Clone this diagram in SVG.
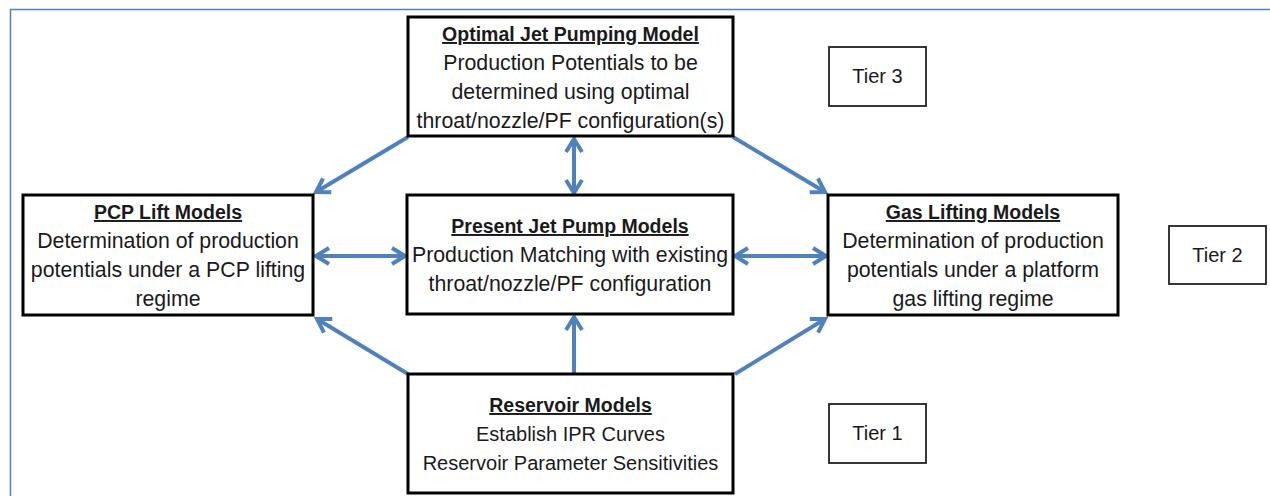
<svg xmlns="http://www.w3.org/2000/svg" width="1270" height="496" viewBox="0 0 1270 496">
<style>
.box{fill:#fff;stroke:#000;stroke-width:3}
.tier{fill:#fff;stroke:#222;stroke-width:1.8}
text{font-family:"Liberation Sans",Arial,sans-serif;font-size:21.3px;fill:#1a1a1a;text-anchor:middle}
.t{font-weight:bold;text-decoration:underline;font-size:19.5px}
.tt{font-size:20px}
.conn line{stroke:#4F81BD;stroke-width:4;fill:none}
</style>
<defs>
<marker id="ah" markerUnits="userSpaceOnUse" viewBox="0 0 20 20" markerWidth="20" markerHeight="20" refX="16" refY="10" orient="auto-start-reverse">
<path d="M3,2 L16,10 L3,18" fill="none" stroke="#4F81BD" stroke-width="4" stroke-linejoin="miter"/>
</marker>
</defs>
<rect width="1270" height="496" fill="#fff"/>
<g id="frame" stroke="#4F81BD" stroke-width="1.5" fill="none">
<line x1="10" y1="9.5" x2="1270" y2="9.5"/>
<line x1="10.5" y1="9" x2="10.5" y2="496"/>
</g>
<g class="conn" id="connectors">
<line x1="408" y1="137" x2="316" y2="192" marker-end="url(#ah)"/>
<line x1="733" y1="137" x2="825" y2="192" marker-end="url(#ah)"/>
<line x1="574" y1="139" x2="574" y2="193" marker-start="url(#ah)" marker-end="url(#ah)"/>
<line x1="316" y1="256" x2="405" y2="256" marker-start="url(#ah)" marker-end="url(#ah)"/>
<line x1="735" y1="256" x2="826" y2="256" marker-start="url(#ah)" marker-end="url(#ah)"/>
<line x1="408" y1="374" x2="317" y2="319" marker-end="url(#ah)"/>
<line x1="574" y1="374" x2="574" y2="317" marker-end="url(#ah)"/>
<line x1="735" y1="374" x2="825" y2="319" marker-end="url(#ah)"/>
</g>
<g id="optimal">
<rect class="box" x="408" y="17" width="325" height="119"/>
<text x="570.5" y="41" class="t">Optimal Jet Pumping Model</text>
<text x="570.5" y="70">Production Potentials to be</text>
<text x="570.5" y="99">determined using optimal</text>
<text x="570.5" y="128">throat/nozzle/PF configuration(s)</text>
</g>
<g id="pcp">
<rect class="box" x="23" y="195" width="290" height="120"/>
<text x="168" y="219" class="t">PCP Lift Models</text>
<text x="168" y="248">Determination of production</text>
<text x="168" y="277">potentials under a PCP lifting</text>
<text x="168" y="306">regime</text>
</g>
<g id="present">
<rect class="box" x="407" y="195" width="326" height="119"/>
<text x="570" y="233" class="t">Present Jet Pump Models</text>
<text x="570" y="262">Production Matching with existing</text>
<text x="570" y="291">throat/nozzle/PF configuration</text>
</g>
<g id="gas">
<rect class="box" x="828" y="195" width="290" height="120"/>
<text x="973" y="219" class="t">Gas Lifting Models</text>
<text x="973" y="248">Determination of production</text>
<text x="973" y="277">potentials under a platform</text>
<text x="973" y="306">gas lifting regime</text>
</g>
<g id="reservoir">
<rect class="box" x="408" y="374" width="325" height="119"/>
<text x="570.5" y="412" class="t">Reservoir Models</text>
<text x="570.5" y="441" class="tt">Establish IPR Curves</text>
<text x="570.5" y="470" class="tt">Reservoir Parameter Sensitivities</text>
</g>
<g id="tier3">
<rect class="tier" x="829" y="47" width="97" height="59"/>
<text x="877.5" y="83" class="tt">Tier 3</text>
</g>
<g id="tier2">
<rect class="tier" x="1169" y="226" width="97" height="58"/>
<text x="1217.5" y="262" class="tt">Tier 2</text>
</g>
<g id="tier1">
<rect class="tier" x="829" y="404" width="97" height="59"/>
<text x="877.5" y="440" class="tt">Tier 1</text>
</g>
</svg>
